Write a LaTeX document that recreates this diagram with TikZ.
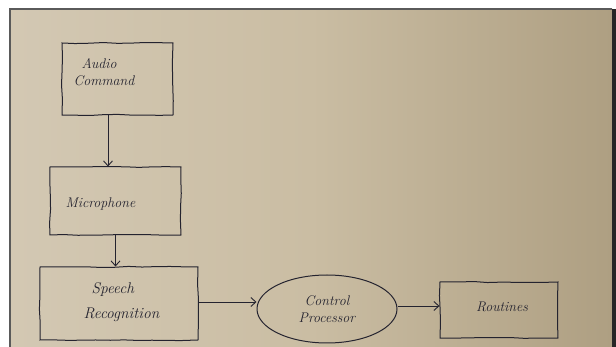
\documentclass[tikz,border=0pt]{standalone}
\usetikzlibrary{arrows.meta,shapes.geometric,decorations.pathmorphing}
\definecolor{paperL}{HTML}{D3C8B3}
\definecolor{paperM}{HTML}{CABDA3}
\definecolor{paperR}{HTML}{AE9F82}
\definecolor{ink}{HTML}{24232F}
\definecolor{frame}{HTML}{5A5A5A}
\tikzset{
  sketch/.style={draw=ink, line width=1pt, decorate, decoration={random steps,segment length=14pt,amplitude=0.6pt}},
  handfont/.style={font=\itshape\fontsize{14}{17}\selectfont, text=ink},
  boxnode/.style={sketch, rectangle, inner sep=2pt},
  ovalnode/.style={draw=ink, line width=1pt, ellipse, inner sep=2pt, handfont, align=center},
  arr/.style={draw=ink, line width=0.9pt, -{Straight Barb[length=5pt,width=9pt]}}
}
\begin{document}
\begin{tikzpicture}[x=1pt,y=-1pt]
\useasboundingbox (0,0) rectangle (616,347);
\fill[white] (0,0) rectangle (616,347);
\shade[left color=paperL, right color=paperR, middle color=paperM] (10,9) rectangle (612,347);
\fill[black!85] (612,9) rectangle (616,347);
\draw[frame, line width=1.2pt] (10,347) -- (10,9) -- (612,9);

\node[boxnode, minimum width=111pt, minimum height=72pt] (ac) at (117.5,79) {};
\node[handfont, align=left, anchor=west] (actext) at (70,72) {\hspace*{8pt}Audio\\Command};

\node[boxnode, minimum width=131pt, minimum height=68pt] (mic) at (115.5,201) {};
\node[handfont, anchor=west] (mictext) at (62,204) {Microphone};

\node[boxnode, minimum width=158pt, minimum height=73pt] (sr) at (119,303.5) {};
\node[text=ink, font=\itshape\fontsize{15.5}{25}\selectfont, align=left, anchor=west] (srtext) at (80,302) {\hspace*{8pt}Speech\\Recognition};

\node[ovalnode, minimum width=140pt, minimum height=68pt] (cp) at (327,309) {Control\\Processor};

\node[boxnode, minimum width=118pt, minimum height=56pt] (rt) at (499,310) {};
\node[handfont] (rttext) at (502,307) {Routines};

\draw[arr] ([xshift=-9.5pt]ac.south) -- ([xshift=-9.5pt]ac.south |- mic.north);
\draw[arr] ([xshift=0pt]mic.south) -- (mic.south |- sr.north);
\draw[arr] ([yshift=1.5pt]sr.east) -- ([yshift=1.5pt]sr.east -| cp.west);
\draw[arr] ([yshift=3pt]cp.east) -- ([yshift=3pt]cp.east -| rt.west);
\end{tikzpicture}
\end{document}
